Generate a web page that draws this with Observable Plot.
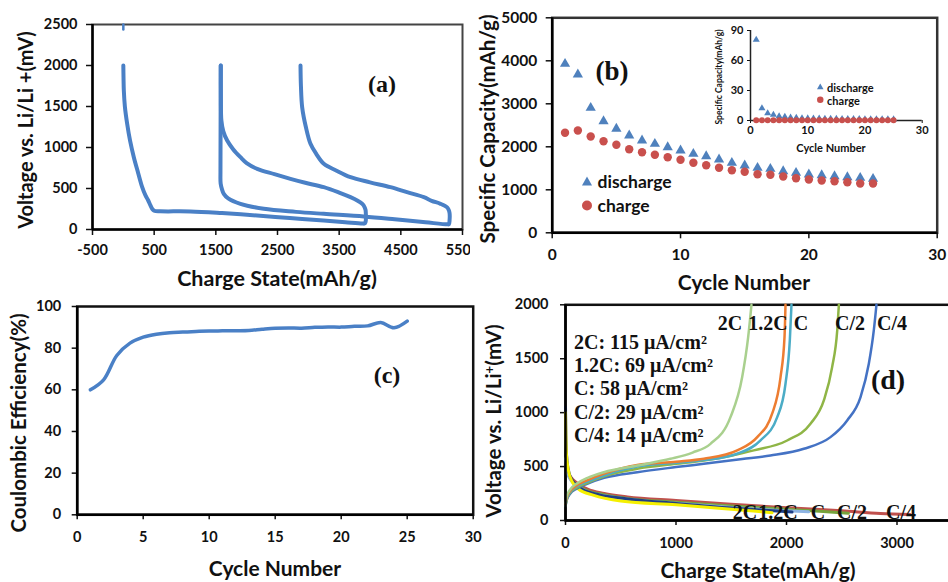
<!DOCTYPE html>
<html>
<head>
<meta charset="utf-8">
<script src="https://cdn.jsdelivr.net/npm/d3@7"></script>
<script src="https://cdn.jsdelivr.net/npm/@observablehq/plot@0.6"></script>
<style>
  html, body { margin: 0; padding: 0; background: #fff; }
  #fig { position: relative; width: 948px; height: 582px; overflow: hidden; background: #fff; }
  .t { position: absolute; white-space: nowrap; color: #111; line-height: 1; }
  .sans { font-family: Lato, "Open Sans", sans-serif; font-weight: bold; }
  .serif { font-family: "Liberation Serif", "DejaVu Serif", serif; font-weight: bold; }
  .leg { position: absolute; display: flex; align-items: center; white-space: nowrap; font-family: Lato, sans-serif; font-weight: bold; color: #111; transform: translate(0, -50%); }
</style>
</head>
<body>
<div id="fig"></div>
<script>
// ---------------- DATA ----------------
// Panel (a): voltage profiles [capacity mAh/g, voltage mV]
const aStub = [[0, 2500], [0, 2440]];
const aCycle1 = [[0,2000],[3,1850],[8,1695],[25,1500],[62,1289],[110,1080],[170,882],[240,690],[306,516],[359,415],[400,360],[440,293],[470,250],[500,228],[600,222],[1088,220],[1600,200],[2169,171],[2700,140],[3249,110],[3600,88],[3880,72],[3920,75],[3932,110],[3932,200],[3927,240],[3900,290],[3873,313],[3800,350],[3684,394],[3500,450],[3250,516],[2950,570],[2710,618],[2450,675],[2170,740],[2000,810],[1899,882],[1780,980],[1684,1085],[1620,1200],[1590,1329],[1582,1600],[1580,2000]];
const aCycle2 = [[1580,2000],[1578,1500],[1576,1000],[1575,700],[1578,560],[1600,490],[1629,435],[1700,380],[1899,313],[2278,252],[2800,215],[3249,191],[3899,159],[4400,125],[4900,88],[5250,63],[5280,65],[5290,110],[5290,200],[5275,240],[5251,270],[5143,313],[5000,350],[4873,394],[4600,455],[4332,516],[4000,575],[3684,638],[3450,720],[3251,801],[3130,920],[3035,1045],[2960,1250],[2900,1492],[2880,1750],[2873,2000]];
const aXTicks = [-500, 500, 1500, 2500, 3500, 4500, 5500];
const aYTicks = [0, 500, 1000, 1500, 2000, 2500];

// Panel (b): specific capacity vs cycle
const cycles = d3.range(1, 26);
const dischargeCap = [3930,3681,2907,2595,2419,2263,2147,2070,1991,1914,1837,1781,1705,1628,1565,1512,1488,1433,1395,1356,1340,1316,1293,1279,1256];
const chargeCap = [2326,2379,2240,2130,2047,1944,1874,1814,1758,1698,1628,1572,1512,1456,1419,1363,1349,1309,1270,1240,1216,1200,1177,1147,1147];
const bXTicks = [0, 10, 20, 30];
const bYTicks = [0, 1000, 2000, 3000, 4000, 5000];
// inset
const insetDischarge = [80.7,12.3,7.3,5.7,4.3,3.7,3.0,2.7,2.3,2.1,2.0,1.9,1.8,1.7,1.6,1.5,1.5,1.4,1.4,1.3,1.3,1.2,1.2,1.2,1.1];
const insetCharge = [0.3,0.3,0.3,0.3,0.3,0.3,0.3,0.3,0.3,0.3,0.3,0.3,0.3,0.3,0.3,0.3,0.3,0.3,0.3,0.3,0.3,0.3,0.3,0.3,0.3];
const insetXTicks = [0, 10, 20, 30];
const insetYTicks = [0, 30, 60, 90];

// Panel (c): coulombic efficiency
const ceValues = [60,64.8,76.5,82.4,85.3,86.7,87.4,87.7,88,88.2,88.3,88.4,88.5,89.1,89.6,89.7,89.6,90,90.2,90.1,90.5,90.7,92.3,89.8,93];
const cXTicks = [0, 5, 10, 15, 20, 25, 30];
const cYTicks = [0, 20, 40, 60, 80, 100];

// Panel (d): rate profiles
const rates = ["2C", "1.2C", "C", "C/2", "C/4"];
const rateCurrents = ["2C: 115 μA/cm²", "1.2C: 69 μA/cm²", "C: 58 μA/cm²", "C/2: 29 μA/cm²", "C/4: 14 μA/cm²"];
const dCharge2C = [[0,160],[10,220],[40,285],[100,340],[200,395],[347,448],[650,510],[950,572],[1150,630],[1312,711],[1493,958],[1599,1330],[1653,1700],[1683,2000]];
const dCharge12C = [[0,150],[10,205],[40,270],[100,325],[200,375],[350,435],[649,515],[1000,545],[1252,572],[1554,650],[1735,773],[1870,990],[1946,1330],[1982,1700],[1991,2000]];
const dChargeC = [[0,140],[10,195],[40,260],[100,315],[200,360],[350,420],[649,500],[1000,535],[1252,560],[1554,619],[1765,742],[1916,958],[1991,1268],[2030,1670],[2045,2000]];
const dChargeC2 = [[0,135],[10,190],[40,255],[100,305],[200,350],[350,410],[649,480],[1000,525],[1252,557],[1500,600],[1704,650],[2006,742],[2217,897],[2338,1113],[2413,1422],[2459,1762],[2474,2000]];
const dChargeC4 = [[0,130],[10,185],[40,245],[100,295],[196,340],[350,395],[649,448],[1000,495],[1252,526],[1600,570],[1855,603],[2157,665],[2398,773],[2549,928],[2670,1144],[2745,1453],[2790,1762],[2814,2000]];
const dDis2C = [[0,1000],[3,800],[8,620],[25,470],[60,360],[120,290],[250,235],[500,180],[1000,145],[1500,105],[1700,88],[1870,72]];
const dDis12C = [[0,1050],[3,800],[10,600],[30,450],[70,360],[150,290],[300,240],[560,200],[1000,158],[1500,115],[1800,95],[2050,78]];
const dDisC = [[0,570],[15,450],[50,370],[100,320],[200,265],[350,230],[560,198],[1000,160],[1500,120],[1900,95],[2200,80]];
const dDisC2 = [[0,580],[15,460],[50,380],[100,330],[200,275],[350,240],[560,205],[1000,170],[1500,135],[2000,105],[2300,85],[2560,68]];
const dDisC4 = [[0,560],[15,470],[50,400],[100,350],[200,290],[350,250],[560,218],[1000,185],[1500,150],[2000,118],[2500,90],[2850,65],[3120,55]];
const dXTicks = [0, 1000, 2000, 3000];
const dYTicks = [0, 500, 1000, 1500, 2000];

// ---------------- STYLE ----------------
const blue = "#4a80c6";
const triBlue = "#4f81bd";
const dotRed = "#c9504d";
const chargeColors = ["#a9d08e", "#ed7d31", "#4bacc6", "#8fb546", "#4472c4"];
const dischargeColors = ["#f5f000", "#1f3f86", "#8eb4e3", "#77a33c", "#c0504d"];

const fig = document.getElementById("fig");
const X = d => d[0], Y = d => d[1];
const fmt = d => String(d);

function place(svg, left, top) {
  svg.style.position = "absolute";
  svg.style.left = left + "px";
  svg.style.top = top + "px";
  svg.style.maxWidth = "none";
  svg.style.background = "transparent";
  fig.appendChild(svg);
}
function baseStyle(size) {
  return { fontFamily: "Lato, 'Open Sans', sans-serif", fontSize: size + "px", fontWeight: "bold", color: "#111", background: "transparent" };
}
function axes(xt, yt, ts, tp, tpy) {
  return [
    Plot.axisX({ ticks: xt, tickSize: ts, tickPadding: tp, tickFormat: fmt, label: null, strokeWidth: 1.5 }),
    Plot.axisY({ ticks: yt, tickSize: ts, tickPadding: tpy ?? tp, tickFormat: fmt, label: null, strokeWidth: 1.5 })
  ];
}

// ---------------- PANEL (a) ----------------
const pa = Plot.plot({
  width: 470, height: 290,
  marginLeft: 92, marginRight: 8, marginTop: 24, marginBottom: 61,
  x: { domain: [-500, 5500] }, y: { domain: [0, 2500] },
  style: baseStyle(14.5),
  marks: [
    Plot.frame({ stroke: "#444", strokeWidth: 2 }),
    ...axes(aXTicks, aYTicks, 6, 9),
    Plot.ruleY([0], { stroke: "#000", strokeWidth: 2.5 }),
    Plot.ruleX([-500], { stroke: "#000", strokeWidth: 2.5 }),
    Plot.line(aStub, { x: X, y: Y, stroke: blue, strokeWidth: 2.5 }),
    Plot.line(aCycle1, { x: X, y: Y, stroke: blue, strokeWidth: 4, curve: "catmull-rom" }),
    Plot.line(aCycle2, { x: X, y: Y, stroke: blue, strokeWidth: 4, curve: "catmull-rom" })
  ]
});
place(pa, 0, 0);

// ---------------- PANEL (b) ----------------
const bRows = cycles.map((c, i) => ({ cycle: c, discharge: dischargeCap[i], charge: chargeCap[i] }));
const pb = Plot.plot({
  width: 474, height: 290,
  marginLeft: 77.7, marginRight: 11.3, marginTop: 17.3, marginBottom: 57.7,
  x: { domain: [0, 30] }, y: { domain: [0, 5000] },
  style: baseStyle(15.5),
  marks: [
    Plot.frame({ stroke: "#333", strokeWidth: 2.5 }),
    ...axes(bXTicks, bYTicks, 6, 10, 9),
    Plot.ruleY([0], { stroke: "#000", strokeWidth: 2.5 }),
    Plot.ruleX([0], { stroke: "#000", strokeWidth: 2.5 }),
    Plot.dot(bRows, { x: "cycle", y: "discharge", symbol: "triangle", r: 3.8, fill: triBlue, stroke: "none" }),
    Plot.dot(bRows, { x: "cycle", y: "charge", symbol: "circle", r: 4.2, fill: dotRed, stroke: "none" })
  ]
});
place(pb, 474, 0);

// inset
const iRows = cycles.map((c, i) => ({ cycle: c, discharge: insetDischarge[i], charge: insetCharge[i] }));
const pi = Plot.plot({
  width: 250, height: 140,
  marginLeft: 60, marginRight: 18.3, marginTop: 10, marginBottom: 40,
  x: { domain: [0, 30] }, y: { domain: [0, 90] },
  style: baseStyle(11),
  marks: [
    Plot.axisX({ ticks: insetXTicks, tickSize: 3, tickPadding: 3, tickFormat: fmt, label: null }),
    Plot.axisY({ ticks: insetYTicks, tickSize: 3, tickPadding: 4, tickFormat: fmt, label: null }),
    Plot.ruleY([0], { stroke: "#222", strokeWidth: 1.5 }),
    Plot.ruleX([0], { stroke: "#222", strokeWidth: 1.5 }),
    Plot.dot(iRows, { x: "cycle", y: "discharge", symbol: "triangle", r: 2.6, fill: triBlue, stroke: "none" }),
    Plot.dot(iRows, { x: "cycle", y: "charge", symbol: "circle", r: 3, fill: dotRed, stroke: "none" })
  ]
});
place(pi, 690, 20);

// ---------------- PANEL (c) ----------------
const cRows = cycles.map((c, i) => ({ cycle: c, ce: ceValues[i] }));
const pc = Plot.plot({
  width: 490, height: 292,
  marginLeft: 76.7, marginRight: 17.3, marginTop: 16, marginBottom: 67.7,
  x: { domain: [0, 30] }, y: { domain: [0, 100] },
  style: baseStyle(14.5),
  marks: [
    Plot.frame({ stroke: "#111", strokeWidth: 2.5 }),
    ...axes(cXTicks, cYTicks, 5, 12, 11),
    Plot.ruleY([0], { stroke: "#000", strokeWidth: 2.5 }),
    Plot.ruleX([0], { stroke: "#000", strokeWidth: 2.5 }),
    Plot.line(cRows, { x: "cycle", y: "ce", stroke: blue, strokeWidth: 3.5, curve: "catmull-rom" })
  ]
});
place(pc, 0, 290);

// ---------------- PANEL (d) ----------------
const chargeSeries = [dCharge2C, dCharge12C, dChargeC, dChargeC2, dChargeC4];
const dischargeSeries = [dDis2C, dDis12C, dDisC, dDisC2, dDisC4];
const dMarks = [];
[4, 3, 2, 1, 0].forEach(i => dMarks.push(Plot.line(dischargeSeries[i], { x: X, y: Y, stroke: dischargeColors[i], strokeWidth: 3, curve: "monotone-x" })));
[4, 3, 2, 1, 0].forEach(i => dMarks.push(Plot.line(chargeSeries[i], { x: X, y: Y, stroke: chargeColors[i], strokeWidth: 2.5, curve: "monotone-x" })));
const pd = Plot.plot({
  width: 480, height: 292,
  marginLeft: 91, marginRight: 2.25, marginTop: 14.3, marginBottom: 62,
  x: { domain: [0, 3500] }, y: { domain: [0, 2000] },
  style: baseStyle(14.5),
  marks: [
    Plot.frame({ stroke: "#111", strokeWidth: 2.5 }),
    ...axes(dXTicks, dYTicks, 5, 12),
    ...dMarks,
    Plot.ruleY([0], { stroke: "#000", strokeWidth: 2.5 }),
    Plot.ruleX([0], { stroke: "#000", strokeWidth: 2.5 })
  ]
});
place(pd, 474, 290);

// ---------------- TEXT ----------------
function text(str, x, y, cls, size, rot, anchor) {
  const d = document.createElement("div");
  d.className = "t " + cls;
  d.innerHTML = str;
  d.style.left = x + "px";
  d.style.top = y + "px";
  d.style.fontSize = size + "px";
  const tx = anchor === "start" ? "0" : "-50%";
  d.style.transform = rot ? "translate(-50%, -50%) rotate(-90deg)" : `translate(${tx}, -50%)`;
  fig.appendChild(d);
  return d;
}
// axis titles
text("Voltage vs. Li/Li +(mV)", 25, 130, "sans", 20, true);
text("Charge State(mAh/g)", 277, 279, "sans", 21.5);
text("Specific Capacity(mAh/g)", 487, 129, "sans", 20.5, true);
text("Cycle Number", 744, 281, "sans", 21);
text("Specific Capacity(mAh/g)", 719, 77, "sans", 8.5, true);
text("Cycle Number", 831, 147, "sans", 11);
text("Coulombic Efficiency(%)", 18, 423, "sans", 20.5, true);
text("Cycle Number", 275, 567, "sans", 21);
text("Voltage vs. Li/Li<sup style='font-size:0.65em;vertical-align:0.55em'>+</sup>(mV)", 493, 421, "sans", 20.5, true);
text("Charge State(mAh/g)", 758, 569, "sans", 21);
// panel tags
text("(a)", 382, 84, "serif", 24);
text("(b)", 612, 71, "serif", 27);
text("(c)", 387, 375, "serif", 24);
text("(d)", 888, 380, "serif", 28);
// rate annotations
const rateLineY = [341.7, 365, 388.3, 411.7, 435];
rateCurrents.forEach((s, i) => text(s, 574, rateLineY[i], "serif", 20, false, "start"));
const topLabelX = [730, 768, 801, 850, 892];
const botLabelX = [745, 778, 818, 852, 901];
rates.forEach((r, i) => {
  text(r, topLabelX[i], 323, "serif", 20);
  text(r, botLabelX[i], 512, "serif", 20);
});

// legends
function legend(x, y, items, size, symSize, gap) {
  items.forEach((it, i) => {
    const row = document.createElement("div");
    row.className = "leg";
    row.style.left = (x - symSize / 2) + "px";
    row.style.top = (y + i * gap) + "px";
    row.style.fontSize = size + "px";
    const s = symSize;
    const shape = it.sym === "triangle"
      ? `<polygon points="${s/2},0 ${s},${s*0.9} 0,${s*0.9}" fill="${it.color}"/>`
      : `<circle cx="${s/2}" cy="${s/2}" r="${s/2}" fill="${it.color}"/>`;
    row.innerHTML = `<svg width="${s}" height="${s}" style="margin-right:${size*0.3}px;overflow:visible">${shape}</svg><span>${it.label}</span>`;
    fig.appendChild(row);
  });
}
legend(587.3, 181, [{ sym: "triangle", color: triBlue, label: "discharge" }, { sym: "circle", color: dotRed, label: "charge" }], 17.5, 10, 24);
legend(820.5, 86.7, [{ sym: "triangle", color: triBlue, label: "discharge" }, { sym: "circle", color: dotRed, label: "charge" }], 11, 6.5, 13.5);
</script>
</body>
</html>
